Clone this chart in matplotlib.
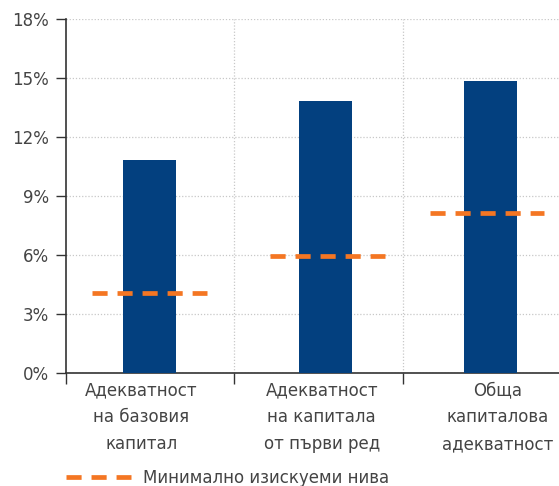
import matplotlib.pyplot as plt
from matplotlib.lines import Line2D

# data
categories = ["Адекватност\nна базовия\nкапитал",
              "Адекватност\nна капитала\nот първи ред",
              "Обща\nкапиталова\nадекватност"]
ratios = [10.82, 13.83, 14.84]
minimums = [4.05, 5.95, 8.15]
y_ticks = [0, 3, 6, 9, 12, 15, 18]
legend_label = "Минимално изискуеми нива"

plt.rcParams['font.family'] = ['DejaVu Sans']

blue = '#03407f'
orange = '#f47623'
grid_c = '#c8c8c8'
text_c = '#444444'

fig = plt.figure(figsize=(5.59, 4.86), dpi=100)
ax = fig.add_axes([0.1175, 0.2331, 0.9043, 0.7278])

# bar centres (slightly uneven in the original layout)
pos = [0.497, 1.542, 2.521]
dash_pos = [0.497, 1.554, 2.50]
label_pos = [0.45, 1.52, 2.563]
dash_style = (3.2, 2.1)

ax.bar(pos, ratios, width=0.315, color=blue, zorder=3)
for p, m in zip(dash_pos, minimums):
    ax.plot([p - 0.34, p + 0.34], [m, m], color=orange, lw=3.4,
            dashes=dash_style, solid_capstyle='butt', dash_capstyle='butt', zorder=4)

ax.set_xlim(0, 3)
ax.set_ylim(0, 18)
ax.set_yticks(y_ticks)
ax.set_yticklabels([f"{v}%" for v in y_ticks])

# boundaries as major ticks, names as minor ticks
ax.set_xticks([0, 1, 2, 3])
ax.set_xticklabels([])
ax.set_xticks(label_pos, minor=True)
ax.set_xticklabels(categories, minor=True, linespacing=1.65)
ax.tick_params(axis='x', which='major', length=8, width=1, color='#333333', direction='out')
ax.tick_params(axis='x', which='minor', length=0, pad=6, labelsize=12, labelcolor=text_c)
ax.tick_params(axis='y', length=7, width=1, color='#333333', pad=5, labelsize=12, labelcolor=text_c)

ax.grid(True, axis='y', color=grid_c, linestyle=(0, (1, 1.5)), lw=0.9, zorder=0)
for b in [1, 2]:
    ax.axvline(b, color=grid_c, linestyle=(0, (1, 1.5)), lw=0.9, zorder=0)

for s in ['top', 'right']:
    ax.spines[s].set_visible(False)
ax.spines['left'].set_color('#333333')
ax.spines['bottom'].set_color('#333333')
ax.spines['left'].set_linewidth(1.2)
ax.spines['bottom'].set_linewidth(1.2)

handle = Line2D([], [], color=orange, lw=3.4, dashes=dash_style, dash_capstyle='butt')
fig.legend([handle], [legend_label], loc='center left', bbox_to_anchor=(0.107, 0.016),
           frameon=False, handlelength=3.9, handletextpad=0.7, fontsize=12,
           labelcolor=text_c, borderaxespad=0)

fig.savefig('out.png', dpi=100)
